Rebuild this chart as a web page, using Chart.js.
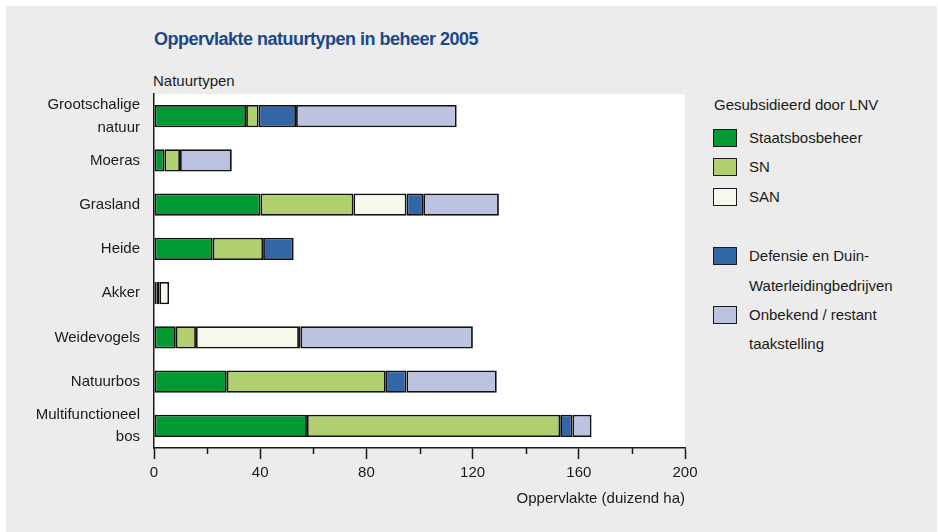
<!DOCTYPE html>
<html>
<head>
<meta charset="utf-8">
<script src="https://cdn.jsdelivr.net/npm/chart.js@4"></script>
<style>
  html, body { margin:0; padding:0; background:#ffffff; }
  body { width:938px; height:532px; position:relative; overflow:hidden; font-family:"Liberation Sans", Arial, sans-serif; }
  #bg { position:absolute; left:6px; top:6px; width:931px; height:526px; background:#ececec; }
  #wrap { position:absolute; left:0; top:0; width:938px; height:532px; }
  .txt { position:absolute; white-space:nowrap; color:#1a1a1a; }
  #title { left:154px; top:29px; font-size:18px; font-weight:bold; color:#17498c; letter-spacing:-0.5px; }
  #ylab { left:153px; top:72px; font-size:15px; }
  .lg { position:absolute; left:749px; font-size:15px; color:#1a1a1a; white-space:nowrap; line-height:18px; }
  .box { position:absolute; left:713px; width:22px; height:16px; border:1.5px solid #1a1a1a; }
</style>
</head>
<body>
<div id="bg"></div>
<div class="txt" id="title">Oppervlakte natuurtypen in beheer 2005</div>
<div class="txt" id="ylab">Natuurtypen</div>
<div id="legend"></div>
<div id="wrap"><canvas id="c" width="938" height="532"></canvas></div>
<script>
// ---- data ----
const categories = [["Grootschalige","natuur"], "Moeras", "Grasland", "Heide", "Akker", "Weidevogels", "Natuurbos", ["Multifunctioneel","bos"]];
const staatsbosbeheer = [34.7, 3.9, 40.1, 22.1, 1.0, 8.2, 27.4, 57.6];
const sn              = [4.7, 5.9, 35.0, 19.0, 1.0, 7.6, 59.9, 95.4];
const san             = [0, 0, 20.0, 0, 3.7, 38.8, 0, 0];
const defensie        = [14.1, 0, 6.3, 11.5, 0, 0.6, 7.8, 4.6];
const onbekend        = [60.5, 19.5, 28.5, 0, 0, 64.9, 34.0, 7.2];
const seriesNames = ["Staatsbosbeheer", "SN", "SAN", "Defensie en Duin-Waterleidingbedrijven", "Onbekend / restant taakstelling"];
const xTicks = [0, 40, 80, 120, 160, 200];
const legendTitle = "Gesubsidieerd door LNV";
const xTitle = "Oppervlakte (duizend ha)";

const colors = ["#009933", "#b0cf6e", "#f5f8ea", "#3366a6", "#bcc3e0"];
const seriesData = [staatsbosbeheer, sn, san, defensie, onbekend];

// ---- HTML legend ----
const lg = document.getElementById('legend');
const t = document.createElement('div');
t.className = 'lg'; t.style.left = '714px'; t.style.top = '96px'; t.textContent = legendTitle;
lg.appendChild(t);
const legendLayout = [
  {box:129, lines:[["Staatsbosbeheer",129]]},
  {box:158, lines:[["SN",158]]},
  {box:188, lines:[["SAN",188]]},
  {box:247, lines:[["Defensie en Duin-",247],["Waterleidingbedrijven",277]]},
  {box:306, lines:[["Onbekend / restant",306],["taakstelling",335]]}
];
legendLayout.forEach((it, i) => {
  const b = document.createElement('div');
  b.className = 'box'; b.style.top = it.box + 'px'; b.style.background = colors[i];
  lg.appendChild(b);
  it.lines.forEach(([s, y]) => {
    const d = document.createElement('div');
    d.className = 'lg'; d.style.top = y + 'px'; d.textContent = s;
    lg.appendChild(d);
  });
});

// ---- plugins ----
const plotBg = {
  id: 'plotBg',
  beforeDraw(chart) {
    const {ctx, chartArea:a} = chart;
    ctx.save(); ctx.fillStyle = '#ffffff';
    ctx.fillRect(a.left, a.top, a.right - a.left, a.bottom - a.top);
    ctx.restore();
  }
};
const minorTicks = {
  id: 'minorTicks',
  afterDraw(chart) {
    const {ctx, scales:{x}, chartArea:a} = chart;
    ctx.save(); ctx.strokeStyle = '#1a1a1a'; ctx.lineWidth = 1.5;
    for (let v = 20; v < 200; v += 40) {
      const px = Math.round(x.getPixelForValue(v)) + 0.5;
      ctx.beginPath(); ctx.moveTo(px, a.bottom); ctx.lineTo(px, a.bottom + 6); ctx.stroke();
    }
    ctx.restore();
  }
};

const font = {family: "'Liberation Sans', Arial, sans-serif", size: 15};

new Chart(document.getElementById('c'), {
  type: 'bar',
  data: {
    labels: categories,
    datasets: seriesData.map((d, i) => ({
      label: seriesNames[i],
      data: d,
      backgroundColor: colors[i],
      borderColor: '#111111',
      borderWidth: 1.8,
      borderSkipped: false,
      barPercentage: 0.5,
      categoryPercentage: 1.0
    }))
  },
  options: {
    indexAxis: 'y',
    responsive: false,
    animation: false,
    devicePixelRatio: 1,
    layout: { padding: { left: 0, right: 253, top: 94, bottom: 24 } },
    plugins: { legend: { display: false }, tooltip: { enabled: false } },
    scales: {
      x: {
        stacked: true,
        min: 0, max: 200,
        afterBuildTicks(scale) { scale.ticks = xTicks.map(v => ({value: v})); },
        grid: { drawOnChartArea: false, drawTicks: true, tickLength: 11, tickColor: '#1a1a1a', tickWidth: 1.5 },
        border: { color: '#1a1a1a', width: 1.5 },
        ticks: { color: '#1a1a1a', font: font, padding: 5, maxRotation: 0 },
        title: { display: true, text: xTitle, align: 'end', color: '#1a1a1a', font: font, padding: {top: 4, bottom: 0} },
        afterFit(scale) { scale.height = 532 - 24 - 448; }
      },
      y: {
        stacked: true,
        grid: { display: true, drawOnChartArea: false, drawTicks: false },
        border: { color: '#1a1a1a', width: 1.5 },
        ticks: { color: '#1a1a1a', font: {family: font.family, size: 15, lineHeight: 1.5}, padding: 14, autoSkip: false, crossAlign: 'near' },
        afterFit(scale) { scale.width = 154; }
      }
    }
  },
  plugins: [plotBg, minorTicks]
});
</script>
</body>
</html>
